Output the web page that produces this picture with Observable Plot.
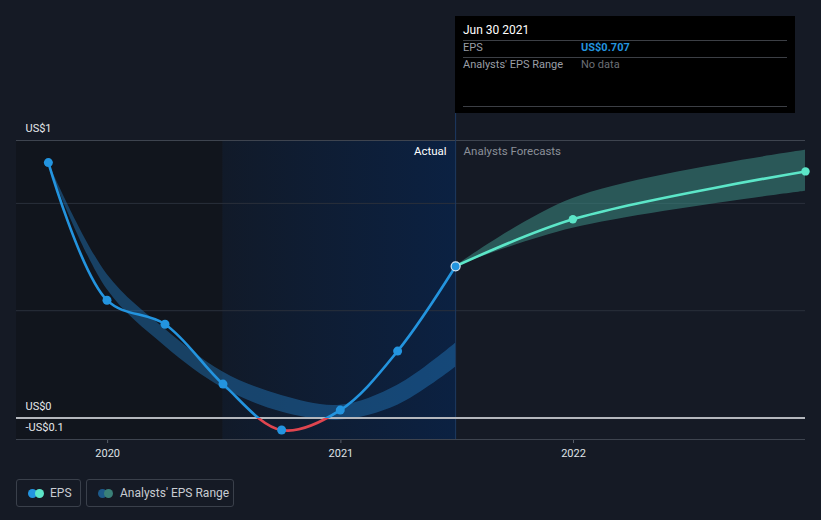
<!DOCTYPE html>
<html>
<head>
<meta charset="utf-8">
<script src="https://cdn.jsdelivr.net/npm/d3@7"></script>
<script src="https://cdn.jsdelivr.net/npm/@observablehq/plot@0.6"></script>
<style>
  html, body { margin: 0; padding: 0; background: #151a25; }
  #wrap { position: relative; width: 821px; height: 520px; overflow: hidden; font-family: Roboto, "Noto Sans", sans-serif; }
  #chart { position: absolute; left: 0; top: 0; }
  #tip { position: absolute; left: 455px; top: 16px; width: 340px; height: 97px; background: #000; }
  #tip .t { position: absolute; left: 8px; font-size: 11px; white-space: nowrap; }
  #tip .hr { position: absolute; left: 8px; width: 324px; height: 1px; background: #3c3f45; }
  .lg { position: absolute; top: 479px; height: 28px; border: 1px solid #3a404b; border-radius: 3px; box-sizing: border-box; }
  .lg .dot { position: absolute; top: 9px; width: 9px; height: 9px; border-radius: 50%; }
  .lg .lab { position: absolute; top: 6px; font-size: 12px; color: #c8ccd2; white-space: nowrap; }
  svg [aria-label^="x-axis"] line, svg [aria-label^="x-axis"] path { stroke: #5a606b; }
</style>
</head>
<body>
<div id="wrap">
  <div id="chart"></div>
  <div id="tip"></div>
  <div id="legend"></div>
</div>
<script>
// ---- data ----
const actualDates = ["2019-09-30","2019-12-31","2020-03-31","2020-06-30","2020-09-30","2020-12-31","2021-03-31","2021-06-30"];
const actualEPS   = [1.19, 0.549, 0.437, 0.158, -0.056, 0.037, 0.312, 0.707];
const pastRangeLow  = [1.18, 0.60, 0.335, 0.14, 0.028, -0.009, 0.060, 0.237];
const pastRangeHigh = [1.19, 0.67, 0.415, 0.215, 0.105, 0.060, 0.153, 0.349];
const forecastDates = ["2021-06-30","2021-12-31","2022-12-31"];
const forecastEPS   = [0.707, 0.926, 1.149];
const forecastLow   = [0.707, 0.884, 1.056];
const forecastHigh  = [0.707, 1.023, 1.247];
const yearTicks = ["2020-01-01","2021-01-01","2022-01-01"];
const yGrid = [0.5, 1.0];
const yLabelValues = [1.293, 0, -0.1];
const yLabelTexts = ["US$1", "US$0", "-US$0.1"];
const xDomain = ["2019-08-11","2022-12-31"];
const yDomain = [-0.1, 1.293];
const regionBounds = ["2019-08-11","2020-06-30","2021-06-30"];
const tipDate = "Jun 30 2021";
const tipEPS = "US$0.707";

const D = s => new Date(s + "T00:00:00Z");
const actual = actualDates.map((d,i) => ({date: D(d), eps: actualEPS[i]}));
const pastRange = actualDates.map((d,i) => ({date: D(d), lo: pastRangeLow[i], hi: pastRangeHigh[i]}));
const forecast = forecastDates.map((d,i) => ({date: D(d), eps: forecastEPS[i], lo: forecastLow[i], hi: forecastHigh[i]}));
const regions = [
  {x1: D(regionBounds[0]), x2: D(regionBounds[1]), fill: "#11151d"},
  {x1: D(regionBounds[1]), x2: D(regionBounds[2]), fill: "url(#actualGrad)"}
];
const split = D(regionBounds[2]);
const yLabels = yLabelValues.map((v,i) => ({v, t: yLabelTexts[i]}));

const BLUE = "#2394df", TEAL = "#5ce6c8", RED = "#e0454f";

const chart = Plot.plot({
  width: 821, height: 520,
  marginLeft: 16, marginRight: 16, marginTop: 140, marginBottom: 81,
  style: {background: "transparent", fontFamily: "Roboto, sans-serif", fontSize: "11px", color: "#dfe2e6"},
  x: {type: "utc", domain: xDomain.map(D), ticks: yearTicks.map(D), tickFormat: d => String(d.getUTCFullYear()), tickSize: 4, tickPadding: 6, label: null},
  y: {domain: yDomain, axis: null},
  marks: [
    Plot.rect(regions, {x1: "x1", x2: "x2", y1: yDomain[0], y2: yDomain[1], fill: d => d.fill}),
    Plot.ruleY(yGrid, {stroke: "#2a303b", strokeWidth: 1}),
    Plot.ruleY([yDomain[1]], {stroke: "#3e444f", strokeWidth: 1}),
    Plot.ruleY([yDomain[0]], {stroke: "#3e444f", strokeWidth: 1}),
    Plot.ruleX([split], {y1: yDomain[0], y2: 1.5, stroke: "#1d3a62", strokeWidth: 1}),
    Plot.areaY(pastRange, {x: "date", y1: "lo", y2: "hi", fill: "#2278bd", fillOpacity: 0.45, curve: "catmull-rom"}),
    Plot.areaY(forecast, {x: "date", y1: "lo", y2: "hi", fill: "#3d8c83", fillOpacity: 0.55, curve: "catmull-rom"}),
    Plot.ruleY([0], {stroke: "#b4b7bd", strokeWidth: 2}),
    Plot.line(actual, {x: "date", y: "eps", stroke: "url(#epsGrad)", strokeWidth: 2.6, curve: "catmull-rom"}),
    Plot.line(forecast, {x: "date", y: "eps", stroke: TEAL, strokeWidth: 2.6, curve: "catmull-rom"}),
    Plot.dot(actual.slice(0, -1), {x: "date", y: "eps", r: 4.5, fill: BLUE}),
    Plot.dot(forecast.slice(1), {x: "date", y: "eps", r: 4.2, fill: TEAL}),
    Plot.dot(actual.slice(-1), {x: "date", y: "eps", r: 4.5, fill: BLUE, stroke: "#d6e6f5", strokeWidth: 1.2}),
    Plot.text(["Actual"], {x: split, y: yDomain[1], dx: -9, dy: 11, textAnchor: "end", fill: "#ffffff", fontSize: 11.5}),
    Plot.text(["Analysts Forecasts"], {x: split, y: yDomain[1], dx: 8, dy: 11, textAnchor: "start", fill: "#8b9099", fontSize: 11.5}),
    Plot.text(yLabels, {x: D(xDomain[0]), y: "v", text: "t", dx: 9, dy: -12, textAnchor: "start", fill: "#e6e8eb", fontSize: 11})
  ]
});

// gradients
const svg = chart;
const ns = "http://www.w3.org/2000/svg";
const defs = document.createElementNS(ns, "defs");
const y0 = chart.scale("y").apply(0);
const xs = chart.scale("x");
const gx1 = xs.apply(D(regionBounds[1])), gx2 = xs.apply(D(regionBounds[2]));
defs.innerHTML = `
<linearGradient id="actualGrad" gradientUnits="userSpaceOnUse" x1="${gx1}" y1="0" x2="${gx2}" y2="0">
  <stop offset="0" stop-color="#111a29"/><stop offset="1" stop-color="#0b2142"/>
</linearGradient>
<linearGradient id="epsGrad" gradientUnits="userSpaceOnUse" x1="0" y1="0" x2="0" y2="520">
  <stop offset="${y0/520}" stop-color="${BLUE}"/><stop offset="${y0/520}" stop-color="${RED}"/>
</linearGradient>`;
svg.insertBefore(defs, svg.firstChild);
document.getElementById("chart").appendChild(chart);

// tooltip
const tip = document.getElementById("tip");
tip.innerHTML = `
  <div class="t" style="top:7px;font-size:12px;color:#ffffff">${tipDate}</div>
  <div class="hr" style="top:24px"></div>
  <div class="t" style="top:25px;color:#9a9ea6">EPS</div>
  <div class="t" style="top:25px;left:126px;color:${BLUE};font-weight:bold">${tipEPS}</div>
  <div class="hr" style="top:41px"></div>
  <div class="t" style="top:42px;color:#9a9ea6">Analysts' EPS Range</div>
  <div class="t" style="top:42px;left:126px;color:#6b6f76">No data</div>
  <div class="hr" style="top:90px"></div>`;

// legend
const legend = document.getElementById("legend");
legend.innerHTML = `
  <div class="lg" style="left:16px;width:65px">
    <div class="dot" style="left:11px;background:${BLUE}"></div>
    <div class="dot" style="left:18px;background:${TEAL}"></div>
    <div class="lab" style="left:33px">EPS</div>
  </div>
  <div class="lg" style="left:86px;width:148px">
    <div class="dot" style="left:11px;background:#1d5a8a"></div>
    <div class="dot" style="left:17px;background:#3a8078"></div>
    <div class="lab" style="left:33px">Analysts' EPS Range</div>
  </div>`;
</script>
</body>
</html>
